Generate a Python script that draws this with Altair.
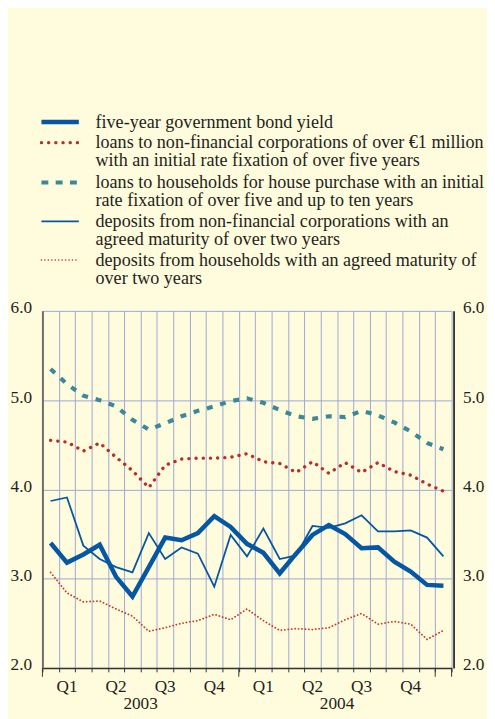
import altair as alt
import pandas as pd

# Months: Jan 2003 ... Jan 2005 (index 0..24)
months = list(range(25))
bond_yield = [3.40, 3.18, 3.27, 3.38, 3.02, 2.80, 3.13, 3.46, 3.43, 3.51, 3.70, 3.58, 3.39,
              3.29, 3.06, 3.28, 3.49, 3.60, 3.50, 3.34, 3.35, 3.19, 3.08, 2.93, 2.92]
loans_nfc = [4.55, 4.53, 4.43, 4.52, 4.36, 4.21, 4.02, 4.27, 4.34, 4.35, 4.35, 4.36, 4.40,
             4.31, 4.29, 4.19, 4.31, 4.18, 4.30, 4.19, 4.30, 4.20, 4.16, 4.06, 3.98]
loans_hh = [5.35, 5.18, 5.05, 5.00, 4.93, 4.78, 4.67, 4.74, 4.82, 4.88, 4.93, 4.99, 5.02,
            4.97, 4.89, 4.82, 4.79, 4.82, 4.81, 4.88, 4.83, 4.75, 4.65, 4.52, 4.45]
dep_nfc = [3.87, 3.91, 3.37, 3.22, 3.13, 3.07, 3.51, 3.22, 3.35, 3.28, 2.91, 3.49, 3.25,
           3.56, 3.22, 3.26, 3.59, 3.57, 3.62, 3.71, 3.53, 3.53, 3.54, 3.46, 3.25]
dep_hh = [3.07, 2.84, 2.74, 2.75, 2.66, 2.58, 2.41, 2.45, 2.50, 2.53, 2.60, 2.54, 2.66,
          2.53, 2.42, 2.44, 2.43, 2.45, 2.54, 2.61, 2.49, 2.52, 2.49, 2.32, 2.42]

quarter_pos = [1, 4, 7, 10, 13, 16, 19, 22]
quarter_labels = ["Q1", "Q2", "Q3", "Q4", "Q1", "Q2", "Q3", "Q4"]
year_pos = [5.5, 17.5]
year_labels = ["2003", "2004"]
year_ticks = [-0.5, 11.5, 23.5, 24.5]
y_ticks = [2, 3, 4, 5, 6]

legend_labels = [
    "five-year government bond yield",
    "loans to non-financial corporations of over €1 million\nwith an initial rate fixation of over five years",
    "loans to households for house purchase with an initial\nrate fixation of over five and up to ten years",
    "deposits from non-financial corporations with an\nagreed maturity of over two years",
    "deposits from households with an agreed maturity of\nover two years",
]

FONT = "Liberation Serif"
FS = 17.5
LFS = 18.4
TXT = "#231F20"
GRID = "#9CA8D8"
BLUE = "#0556A3"
RED = "#B3302F"
TEAL = "#3E8799"
RED2 = "#C0392F"
BG = "#FFFBDD"

df = pd.DataFrame({"m": months, "bond": bond_yield, "lnfc": loans_nfc,
                   "lhh": loans_hh, "dnfc": dep_nfc, "dhh": dep_hh})

xscale = alt.Scale(domain=[-0.5, 24.5], nice=False, zero=False)
yscale = alt.Scale(domain=[2, 6], nice=False, zero=False)
X = alt.X("m:Q", scale=xscale,
          axis=alt.Axis(values=[i - 0.5 for i in range(26)], labels=False, tickSize=4,
                        tickColor="#333333", tickWidth=1, domainColor="#333333",
                        domainWidth=1.5, grid=True, gridColor=GRID, gridWidth=1, title=None))

left_axis = alt.Axis(values=y_ticks, format=".1f", tickSize=0, domainColor="#6E6E6E",
                     domainWidth=2, grid=True, gridColor=GRID, gridWidth=1, labelPadding=11,
                     labelFont=FONT, labelFontSize=FS, labelColor=TXT, title=None,
                     labelOffset=-3, orient="left")


def series(field, **style):
    return alt.Chart(df).mark_line(**style).encode(
        x=X, y=alt.Y(f"{field}:Q", scale=yscale, axis=left_axis))


lines = alt.layer(
    series("dhh", color=RED2, strokeWidth=1.8, strokeDash=[0.1, 3.4], strokeCap="round"),
    series("lnfc", color=RED, strokeWidth=3.4, strokeDash=[0.1, 7.2], strokeCap="round"),
    series("lhh", color=TEAL, strokeWidth=4.2, strokeDash=[6, 8]),
    series("dnfc", color=BLUE, strokeWidth=1.8),
    series("bond", color=BLUE, strokeWidth=4.6, strokeJoin="miter"),
)

right = alt.Chart(df).mark_line(opacity=0).encode(
    x=X,
    y=alt.Y("bond:Q", scale=yscale,
            axis=alt.Axis(values=y_ticks, format=".1f", tickSize=0, domainColor="#000000",
                          domainWidth=1.5, grid=False, offset=2, labelPadding=9,
                          labelFont=FONT, labelFontSize=FS, labelColor=TXT, title=None,
                          labelOffset=-3, orient="right")))

qdf = pd.DataFrame({"m": quarter_pos, "t": quarter_labels})
quarters = alt.Chart(qdf).mark_text(font=FONT, fontSize=FS, color=TXT, baseline="alphabetic").encode(
    x=X, y=alt.value(387), text="t:N")

ydf = pd.DataFrame({"m": year_pos, "t": year_labels})
years = alt.Chart(ydf).mark_text(font=FONT, fontSize=FS, color=TXT, baseline="alphabetic").encode(
    x=X, y=alt.value(405), text="t:N")

tdf = pd.DataFrame({"m": year_ticks})
yticks = alt.Chart(tdf).mark_rule(color="#333333", strokeWidth=1).encode(
    x=X, y=alt.value(363), y2=alt.value(372))

one = alt.Data(values=[{"a": 1}])
sym_y = [-192, -171, -130.5, -91, -51.7]
base_y = [-186.3, -165.3, -124.8, -85.3, -46]
sym_styles = [
    dict(color=BLUE, strokeWidth=4.6),
    dict(color=RED, strokeWidth=3.4, strokeDash=[0.1, 7.2], strokeCap="round"),
    dict(color=TEAL, strokeWidth=4.2, strokeDash=[7, 7.5]),
    dict(color=BLUE, strokeWidth=2),
    dict(color=RED2, strokeWidth=1.6, strokeDash=[0.1, 3.4], strokeCap="round"),
]
legend_layers = []
for lab, sy, by, st in zip(legend_labels, sym_y, base_y, sym_styles):
    legend_layers.append(
        alt.Chart(one).mark_rule(**st).encode(x=alt.value(-1), x2=alt.value(37), y=alt.value(sy)))
    legend_layers.append(
        alt.Chart(one).mark_text(font=FONT, fontSize=LFS, color=TXT, align="left",
                                 baseline="alphabetic", lineBreak="\n", lineHeight=18.5).encode(
            x=alt.value(54), y=alt.value(by), text=alt.value(lab)))

chart = alt.layer(lines, right, quarters, years, yticks, *legend_layers).resolve_scale(
    y="independent"
).properties(
    width=416, height=363,
    padding={"left": 35, "top": 302, "right": 36, "bottom": 46},
    autosize=alt.AutoSizeParams(type="none"),
    background=BG,
).configure_view(stroke=None)

chart.save("out.html", embed_options={"renderer": "svg", "actions": False})
